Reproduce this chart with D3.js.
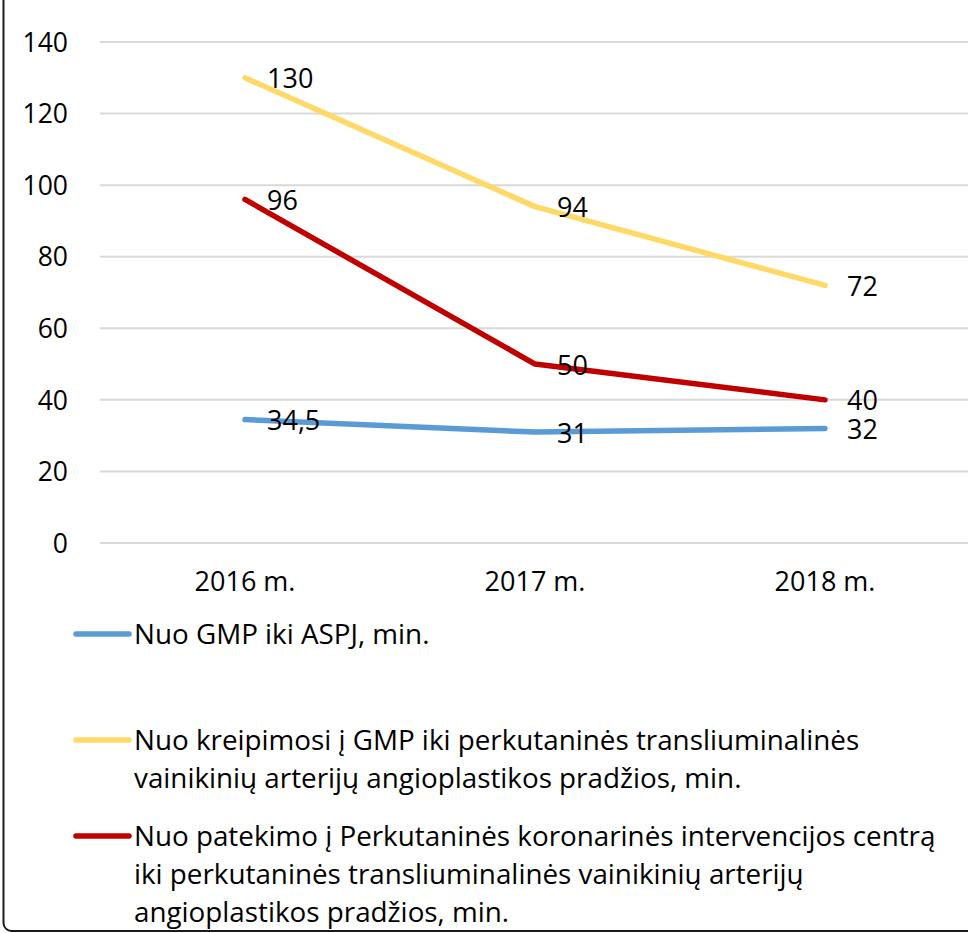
<!DOCTYPE html>
<html><head><meta charset="utf-8">
<script src="https://cdn.jsdelivr.net/npm/d3@7"></script>
<style>
html,body{margin:0;padding:0;background:#fff;overflow:hidden;}
text{font-family:"Open Sans",sans-serif;fill:#000;}
</style></head>
<body>
<svg id="chart" width="968" height="933"></svg>
<script>
const categories = ["2016 m.", "2017 m.", "2018 m."];
const legendLines = [
  ["Nuo GMP iki ASPJ, min."],
  ["Nuo kreipimosi į GMP iki perkutaninės transliuminalinės", "vainikinių arterijų angioplastikos pradžios, min."],
  ["Nuo patekimo į Perkutaninės koronarinės intervencijos centrą", "iki perkutaninės transliuminalinės vainikinių arterijų", "angioplastikos pradžios, min."]
];
const valuesGMP = [34.5, 31, 32];
const valuesKreip = [130, 94, 72];
const valuesPatek = [96, 50, 40];
const valueLabels = [["34,5", "31", "32"], ["130", "94", "72"], ["96", "50", "40"]];
const yTicks = [0, 20, 40, 60, 80, 100, 120, 140];
const colors = ["#5B9BD5", "#FFD966", "#C00000"];

const series = [valuesGMP, valuesKreip, valuesPatek];
const FS = 27;
const LFS = 27.8;
const svg = d3.select("#chart");

svg.append("rect").attr("x", 3.5).attr("y", -40).attr("width", 1200).attr("height", 971)
  .attr("rx", 8).attr("fill", "none").attr("stroke", "#1a1a1a").attr("stroke-width", 2);

const x = d3.scaleBand().domain(categories).range([100, 970]);
const y = d3.scaleLinear().domain([0, 140]).range([543, 42]);

svg.append("g").selectAll("line").data(yTicks).join("line")
  .attr("x1", 100).attr("x2", 970)
  .attr("y1", d => y(d)).attr("y2", d => y(d))
  .attr("stroke", "#d9d9d9").attr("stroke-width", 2);

const yAxis = d3.axisLeft(y).tickValues(yTicks).tickSize(0).tickPadding(0);
const yg = svg.append("g").attr("transform", "translate(68,0)").call(yAxis);
yg.select(".domain").remove();
yg.selectAll("text").attr("font-size", 26.5).attr("dy", "0.35em")
  .style("font-family", "'Open Sans',sans-serif").attr("fill", "#000");

const xAxis = d3.axisBottom(x).tickSize(0).tickPadding(0);
const xg = svg.append("g").attr("transform", "translate(0,582)").call(xAxis);
xg.select(".domain").remove();
xg.selectAll("text").attr("font-size", FS).attr("dy", "0.35em")
  .style("font-family", "'Open Sans',sans-serif").attr("fill", "#000");

const cx = c => x(c) + x.bandwidth() / 2;
const line = d3.line().x((d, i) => cx(categories[i])).y(d => y(d));

series.forEach((vals, si) => {
  svg.append("path").datum(vals).attr("d", line)
    .attr("fill", "none").attr("stroke", colors[si]).attr("stroke-width", 5.5)
    .attr("stroke-linecap", "round").attr("stroke-linejoin", "round");
});

series.forEach((vals, si) => {
  svg.append("g").selectAll("text").data(vals).join("text")
    .attr("x", (d, i) => cx(categories[i]) + 22)
    .attr("y", (d, i) => y(d) + 1)
    .attr("dy", "0.35em")
    .attr("font-size", FS)
    .text((d, i) => valueLabels[si][i]);
});

const legendY = [634, 740, 836];
const lh = 38;
legendLines.forEach((lines, si) => {
  const g = svg.append("g");
  g.append("line").attr("x1", 76).attr("x2", 129)
    .attr("y1", legendY[si]).attr("y2", legendY[si])
    .attr("stroke", colors[si]).attr("stroke-width", 5.5).attr("stroke-linecap", "round");
  lines.forEach((t, li) => {
    g.append("text").attr("x", 134).attr("y", legendY[si] + li * lh)
      .attr("dy", "0.35em").attr("font-size", LFS).text(t);
  });
});
</script>
</body></html>
